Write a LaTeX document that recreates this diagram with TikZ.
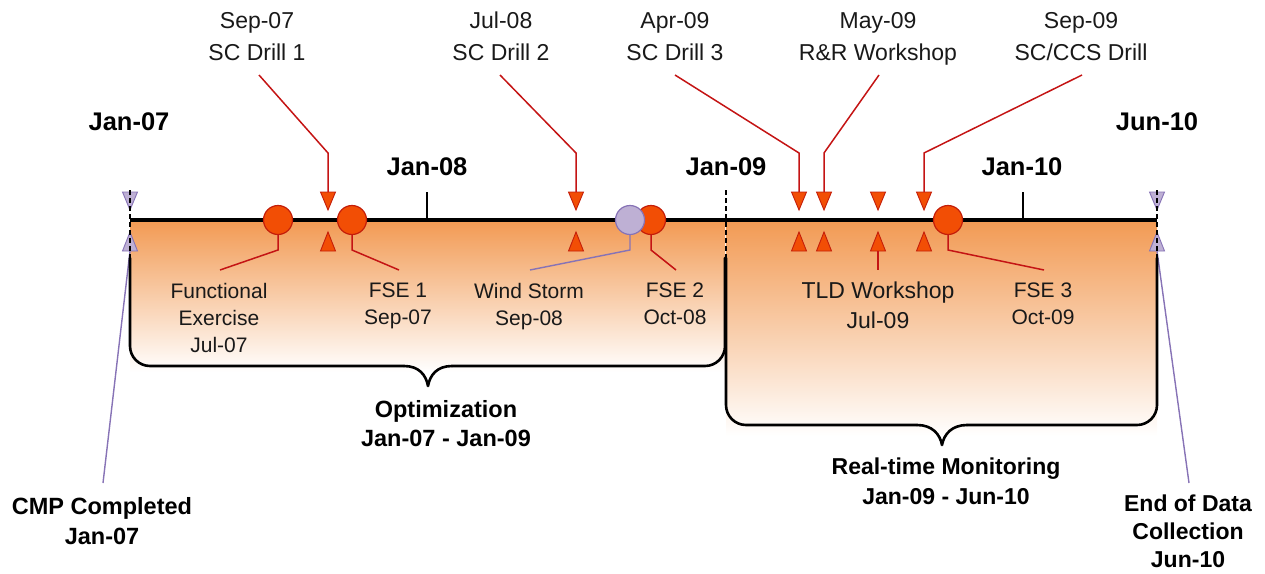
\documentclass[tikz,border=0pt]{standalone}
\usepackage{fontspec}
\setmainfont{Liberation Sans}
\definecolor{ink}{RGB}{25,25,25}
\definecolor{evfill}{RGB}{242,78,5}
\definecolor{evedge}{RGB}{196,30,10}
\definecolor{linkred}{RGB}{196,20,20}
\definecolor{lavfill}{RGB}{190,176,212}
\definecolor{lavedge}{RGB}{135,115,182}
\definecolor{boxtop}{RGB}{242,155,85}
\tikzset{
  evtri/.style={fill=evfill, draw=evedge, line width=0.9pt, line join=miter},
  lavtri/.style={fill=lavfill, draw=lavedge, line width=0.9pt, line join=miter},
  evdot/.style={circle, minimum size=29pt, inner sep=0pt, fill=evfill, draw=evedge, line width=1.2pt},
  lavdot/.style={circle, minimum size=29pt, inner sep=0pt, fill=lavfill, draw=lavedge, line width=1.2pt},
  redlink/.style={draw=linkred, line width=1.5pt},
  lavlink/.style={draw=lavedge, line width=1.4pt},
  boxline/.style={draw=black, line width=2.6pt, line cap=round, line join=round},
  axisline/.style={draw=black, line width=4pt},
  tickline/.style={draw=black, line width=1.3pt},
  guide/.style={draw=black, line width=1.5pt, dash pattern=on 5pt off 3pt},
  toplab/.style={anchor=north, inner sep=0pt, align=center, text=ink, font=\fontsize{23}{32}\selectfont},
  datelab/.style={anchor=north, inner sep=0pt, text=black, font=\bfseries\fontsize{25.5}{30}\selectfont},
  evlab/.style={anchor=north, inner sep=0pt, align=center, text=ink, font=\fontsize{21}{27}\selectfont},
  biglab/.style={anchor=north, inner sep=0pt, align=center, text=ink, font=\fontsize{23}{30}\selectfont},
  phaselab/.style={anchor=north, inner sep=0pt, align=center, text=black, font=\bfseries\fontsize{23.5}{29.5}\selectfont}
}
\begin{document}
\begin{tikzpicture}[x=1pt,y=-1pt]
\useasboundingbox (0,0) rectangle (1265,573);

% phase backgrounds
\shade[top color=boxtop, bottom color=white] (130,222) rectangle (725,372);
\shade[top color=boxtop, bottom color=white] (726,222) rectangle (1157,436);

% milestone leaders (behind the phase outlines)
\coordinate (cmpTip) at (103,483);
\coordinate (endTip) at (1189,483);
\coordinate (cmpUp) at (130,251);
\coordinate (endUp) at (1157,251);
\draw[lavlink] (cmpUp) -- (cmpTip);
\draw[lavlink] (endUp) -- (endTip);

% phase outlines with braces
\draw[boxline, rounded corners=20pt] (130,258) -- (130,366) -- (404,366);
\draw[boxline] (404,366) .. controls (419,366) and (426,375) .. (428,386)
               .. controls (430,375) and (437,366) .. (452,366);
\draw[boxline, rounded corners=20pt] (452,366) -- (725,366) -- (725,258);
\draw[boxline, rounded corners=20pt] (726,258) -- (726,425) -- (917,425);
\draw[boxline] (917,425) .. controls (932,425) and (940,434) .. (942,445)
               .. controls (944,434) and (952,425) .. (967,425);
\draw[boxline, rounded corners=20pt] (967,425) -- (1157,425) -- (1157,258);

% time axis and year ticks
\draw[axisline] (130,220) -- (1157,220);
\draw[tickline] (427,192) -- (427,220);
\draw[tickline] (1023,192) -- (1023,220);

% start / end milestones
\foreach \x in {130,1157} {
  \path[lavtri] (\x-7.5,192) -- (\x+7.5,192) -- (\x,210) -- cycle;
  \path[lavtri] (\x-7.5,251) -- (\x+7.5,251) -- (\x,232) -- cycle;
}
\draw[guide] (130,190) -- (130,258);
\draw[guide] (1157,190) -- (1157,258);
\draw[guide] (726,190) -- (726,258);

% drills and workshops
\foreach \x/\n in {328/a,576/b,799/c,824/d,878/e,924/f} {
  \path[evtri] (\x-7.5,192) -- (\x+7.5,192) -- (\x,210) -- cycle;
  \path[evtri] (\x-7.5,251) -- (\x+7.5,251) -- (\x,232) -- cycle;
  \coordinate (dn\n) at (\x,192);
  \coordinate (up\n) at (\x,251);
}

% labels above the axis
\node[toplab] (l1) at (257,12) {Sep-07\\SC Drill 1};
\node[toplab] (l2) at (501,12) {Jul-08\\SC Drill 2};
\node[toplab] (l3) at (675,12) {Apr-09\\SC Drill 3};
\node[toplab] (l4) at (878,12) {May-09\\R\&R Workshop};
\node[toplab] (l5) at (1081,12) {Sep-09\\SC/CCS Drill};

\coordinate (s1) at (259,75);  \coordinate (k1) at (328,153);
\coordinate (s2) at (500,75);  \coordinate (k2) at (576,153);
\coordinate (s3) at (675,75);  \coordinate (k3) at (799,153);
\coordinate (s4) at (879,75);  \coordinate (k4) at (824,153);
\coordinate (s5) at (1082,75); \coordinate (k5) at (924,153);
\draw[redlink] (s1) -- (k1) -- (dna);
\draw[redlink] (s2) -- (k2) -- (dnb);
\draw[redlink] (s3) -- (k3) -- (dnc);
\draw[redlink] (s4) -- (k4) -- (dnd);
\draw[redlink] (s5) -- (k5) -- (dnf);

% year labels
\node[datelab] (y07) at (129,112) {Jan-07};
\node[datelab] (y10e) at (1157,112) {Jun-10};
\node[datelab] (y08) at (427,157) {Jan-08};
\node[datelab] (y09) at (726,157) {Jan-09};
\node[datelab] (y10) at (1022,157) {Jan-10};

% exercises and events on the axis
\coordinate (fek) at (278,250);  \coordinate (fet) at (220,270);
\coordinate (f1k) at (352,250);  \coordinate (f1t) at (399,270);
\coordinate (wsk) at (630,250);  \coordinate (wst) at (530,270);
\coordinate (f2k) at (651,250);  \coordinate (f2t) at (676,270);
\coordinate (f3k) at (948,250);  \coordinate (f3t) at (1044,270);
\coordinate (tldt) at (878,270);

\node[evdot] (fe) at (278,220) {};
\node[evdot] (f1) at (352,220) {};
\node[evdot] (f2) at (651,220) {};
\node[lavdot] (ws) at (630,220) {};
\node[evdot] (f3) at (948,220) {};

\draw[redlink] (fe.south) -- (fek) -- (fet);
\draw[redlink] (f1.south) -- (f1k) -- (f1t);
\draw[redlink] (f2.south) -- (f2k) -- (f2t);
\draw[lavlink] (ws.south) -- (wsk) -- (wst);
\draw[redlink] (f3.south) -- (f3k) -- (f3t);
\draw[redlink] (upe) -- (tldt);

% event labels
\node[evlab] (lfe) at (219,283) {Functional\\Exercise\\Jul-07};
\node[evlab] (lf1) at (398,283) {FSE 1\\Sep-07};
\node[evlab] (lws) at (529,283) {Wind Storm\\Sep-08};
\node[evlab] (lf2) at (675,283) {FSE 2\\Oct-08};
\node[biglab] (ltld) at (878,282) {TLD Workshop\\Jul-09};
\node[evlab] (lf3) at (1043,283) {FSE 3\\Oct-09};

% phase and milestone captions
\node[phaselab] (popt) at (446,400) {Optimization\\Jan-07 - Jan-09};
\node[phaselab, font=\bfseries\fontsize{23}{30}\selectfont] (prt) at (946,458) {Real-time Monitoring\\Jan-09 - Jun-10};
\node[phaselab, font=\bfseries\fontsize{23.5}{30}\selectfont] (pcmp) at (102,497) {CMP Completed\\Jan-07};
\node[phaselab, font=\bfseries\fontsize{23}{28}\selectfont] (pend) at (1188,495) {End of Data\\Collection\\Jun-10};
\end{tikzpicture}
\end{document}
